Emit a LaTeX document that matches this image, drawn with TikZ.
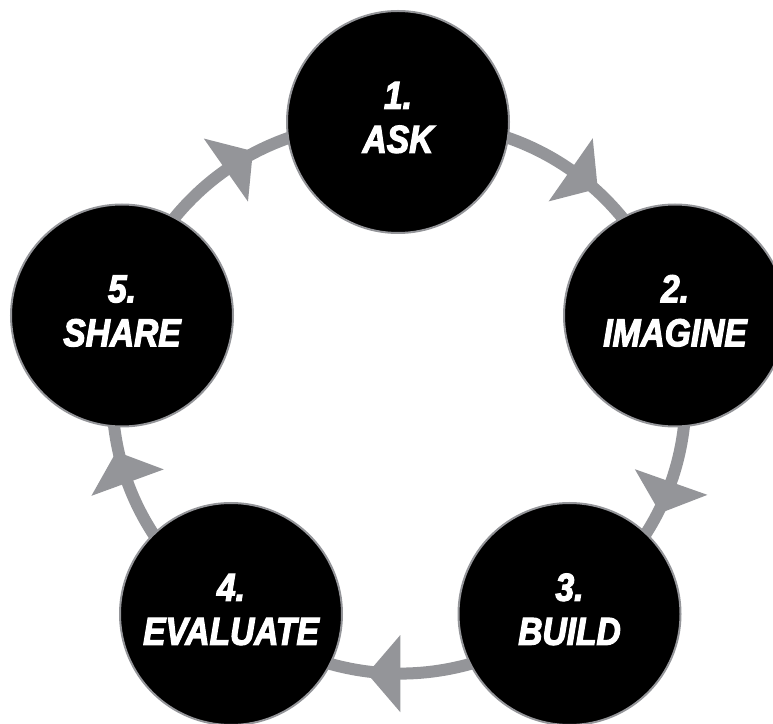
\documentclass[tikz,border=0pt]{standalone}
\usepackage{fontspec}
\newfontfamily\lblfont[FakeStretch=0.86,FakeBold=3]{Liberation Sans}
\usetikzlibrary{decorations.markings,backgrounds}
\definecolor{ringgray}{RGB}{148,149,153}
\newcommand{\stagetext}[2]{\raisebox{4pt}{\begin{tabular}{@{}c@{}}#1\\#2\end{tabular}}}
\begin{document}
\begin{tikzpicture}[x=1pt,y=1pt,
  stage/.style={circle, fill=black, draw=ringgray, line width=2pt,
    minimum size=222pt, inner sep=0pt, text=white,
    font=\lblfont\bfseries\itshape\fontsize{39}{44}\selectfont},
  link/.style={draw=ringgray, line width=12pt, postaction={decorate},
    decoration={markings, mark=at position 0.5 with
      {\fill[ringgray] (0pt,-38.5pt) -- (33pt,0pt) -- (0pt,38.5pt) -- cycle;}}}
]
\useasboundingbox (0,0) rectangle (773,723);
\node[stage] (ask)  at (398,601)   {\stagetext{1.}{ASK}};
\node[stage] (imag) at (675,407.5) {\stagetext{2.}{IMAGINE}};
\node[stage] (bld)  at (569.5,109) {\stagetext{3.}{BUILD}};
\node[stage] (eval) at (231,109)   {\stagetext{4.}{EVALUATE}};
\node[stage] (shr)  at (122,407.5) {\stagetext{5.}{SHARE}};
\begin{pgfonlayer}{background}
\draw[link] (ask.center)  to[bend left=37] (imag.center);
\draw[link] (imag.center) to[bend left=34] (bld.center);
\draw[link] (bld.center)  to[bend left=37] (eval.center);
\draw[link] (eval.center) to[bend left=34] (shr.center);
\draw[link] (shr.center)  to[bend left=37] (ask.center);
\end{pgfonlayer}
\end{tikzpicture}
\end{document}
